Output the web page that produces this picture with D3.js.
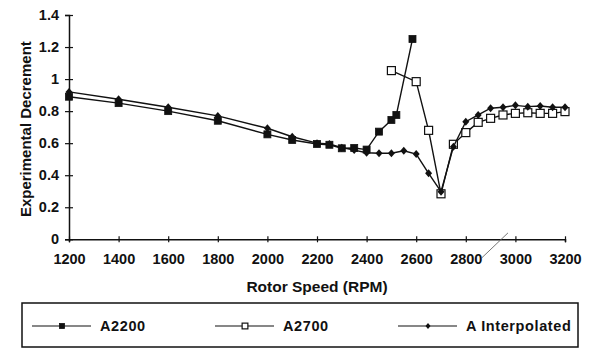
<!DOCTYPE html>
<html>
<head>
<meta charset="utf-8">
<script src="https://cdn.jsdelivr.net/npm/d3@7"></script>
<style>
  body { margin: 0; background: #fff; }
  svg { display: block; font-family: "Liberation Sans", Arial, sans-serif; }
</style>
</head>
<body>
<div id="chart"></div>
<script>
// data
const rpmA2200 = [1200, 1400, 1600, 1800, 2000, 2100, 2200, 2250, 2300, 2350, 2400, 2450, 2500, 2520, 2585];
const valA2200 = [0.89, 0.85, 0.80, 0.74, 0.655, 0.62, 0.595, 0.59, 0.568, 0.57, 0.56, 0.672, 0.745, 0.776, 1.25];

const rpmA2700 = [2500, 2600, 2650, 2700, 2750, 2800, 2850, 2900, 2950, 3000, 3050, 3100, 3150, 3200];
const valA2700 = [1.053, 0.984, 0.68, 0.284, 0.593, 0.666, 0.73, 0.755, 0.776, 0.786, 0.79, 0.786, 0.786, 0.797];

const rpmInterp = [1200, 1400, 1600, 1800, 2000, 2100, 2200, 2250, 2300, 2350, 2400, 2450, 2500, 2550, 2600, 2650,
  2700, 2750, 2800, 2850, 2900, 2950, 3000, 3050, 3100, 3150, 3200];
const valInterp = [0.92, 0.874, 0.824, 0.77, 0.693, 0.64, 0.60, 0.595, 0.572, 0.557, 0.54, 0.537, 0.537, 0.553, 0.532, 0.412,
  0.297, 0.578, 0.734, 0.776, 0.818, 0.824, 0.836, 0.828, 0.832, 0.824, 0.824];

const xTicks = [1200, 1400, 1600, 1800, 2000, 2200, 2400, 2600, 2800, 3000, 3200];
const yTicks = [0, 0.2, 0.4, 0.6, 0.8, 1, 1.2, 1.4];

const seriesNames = ["A2200", "A2700", "A Interpolated"];

const W = 595, H = 348;
const svg = d3.select("#chart").append("svg")
  .attr("width", W)
  .attr("height", H);

const x = d3.scaleLinear().domain([1200, 3200]).range([69, 565]);
const y = d3.scaleLinear().domain([0, 1.4]).range([239.3, 15]);
const ink = "#111";

// axes
const xAxis = svg.append("g")
  .attr("transform", `translate(0,${y(0)})`)
  .call(d3.axisBottom(x).tickValues(xTicks).tickSize(3).tickFormat(d => d));
xAxis.select(".domain").attr("stroke", ink).attr("stroke-width", 1.5);
xAxis.selectAll(".tick line").attr("stroke", ink).attr("stroke-width", 1.2).attr("y1", -3);
xAxis.selectAll(".tick text")
  .attr("y", 14)
  .attr("fill", ink)
  .style("font-size", "14.5px")
  .style("font-weight", "bold")
  .attr("font-family", null);

const yAxis = svg.append("g")
  .attr("transform", `translate(${x(1200)},0)`)
  .call(d3.axisLeft(y).tickValues(yTicks).tickSize(4).tickFormat(d => d));
yAxis.select(".domain").attr("stroke", ink).attr("stroke-width", 1.5);
yAxis.selectAll(".tick line").attr("stroke", ink).attr("stroke-width", 1.2).attr("x2", 4).attr("x1", -4);
yAxis.selectAll(".tick text")
  .attr("x", -10)
  .attr("fill", ink)
  .style("font-size", "14.5px")
  .style("font-weight", "bold")
  .attr("font-family", null);

// axis titles
svg.append("text")
  .attr("x", (x(1200) + x(3200)) / 2)
  .attr("y", 292)
  .attr("text-anchor", "middle")
  .attr("fill", ink)
  .style("font-size", "15.5px")
  .style("font-weight", "bold")
  .text("Rotor Speed (RPM)");

svg.append("text")
  .attr("transform", `translate(31,${(y(0) + y(1.4)) / 2 + 2}) rotate(-90)`)
  .attr("text-anchor", "middle")
  .attr("fill", ink)
  .style("font-size", "15px")
  .style("font-weight", "bold")
  .text("Experimental Decrement");

// faint scan stroke across the x axis
svg.append("line")
  .attr("x1", x(2865)).attr("y1", y(-0.115))
  .attr("x2", x(2970)).attr("y2", y(0.04))
  .attr("stroke", "#666")
  .attr("stroke-width", 0.9);

// series
const line = d3.line().x(d => x(d[0])).y(d => y(d[1]));

const pairs = (xs, ys) => xs.map((v, i) => [v, ys[i]]);
const dA2200 = pairs(rpmA2200, valA2200);
const dA2700 = pairs(rpmA2700, valA2700);
const dInterp = pairs(rpmInterp, valInterp);

function drawMarker(g, kind, cx, cy, s = 1) {
  if (kind === "filled") {
    g.append("rect").attr("x", cx - 3.5 * s).attr("y", cy - 3.5 * s).attr("width", 7 * s).attr("height", 7 * s)
      .attr("fill", ink).attr("stroke", ink).attr("stroke-width", 0.8);
  } else if (kind === "open") {
    g.append("rect").attr("x", cx - 4 * s).attr("y", cy - 4 * s).attr("width", 8 * s).attr("height", 8 * s)
      .attr("fill", "#fff").attr("stroke", ink).attr("stroke-width", 1.2);
  } else {
    g.append("path").attr("d", `M${cx},${cy - 4 * s}L${cx + 3.5 * s},${cy}L${cx},${cy + 4 * s}L${cx - 3.5 * s},${cy}Z`)
      .attr("fill", ink);
  }
}

const series = [
  { data: dA2200, kind: "filled" },
  { data: dA2700, kind: "open" },
  { data: dInterp, kind: "diamond" }
];

series.forEach(s => {
  const g = svg.append("g");
  g.append("path")
    .datum(s.data)
    .attr("d", line)
    .attr("fill", "none")
    .attr("stroke", ink)
    .attr("stroke-width", 1.4);
  s.data.forEach(d => drawMarker(g, s.kind, x(d[0]), y(d[1])));
});

// legend
const legend = svg.append("g");
legend.append("rect")
  .attr("x", 22).attr("y", 303)
  .attr("width", 556).attr("height", 44)
  .attr("fill", "none")
  .attr("stroke", ink)
  .attr("stroke-width", 1.5);

const legendX = [32, 215, 398];
seriesNames.forEach((name, i) => {
  const lx = legendX[i];
  const ly = 326;
  legend.append("line")
    .attr("x1", lx).attr("x2", lx + 59)
    .attr("y1", ly).attr("y2", ly)
    .attr("stroke", ink).attr("stroke-width", 1.1);
  drawMarker(legend, series[i].kind, lx + 30, ly, 0.72);
  legend.append("text")
    .attr("x", lx + 68)
    .attr("y", ly + 5)
    .attr("fill", ink)
    .style("font-size", "14.5px")
    .style("font-weight", "bold")
    .style("letter-spacing", "0.6px")
    .text(name);
});
</script>
</body>
</html>
